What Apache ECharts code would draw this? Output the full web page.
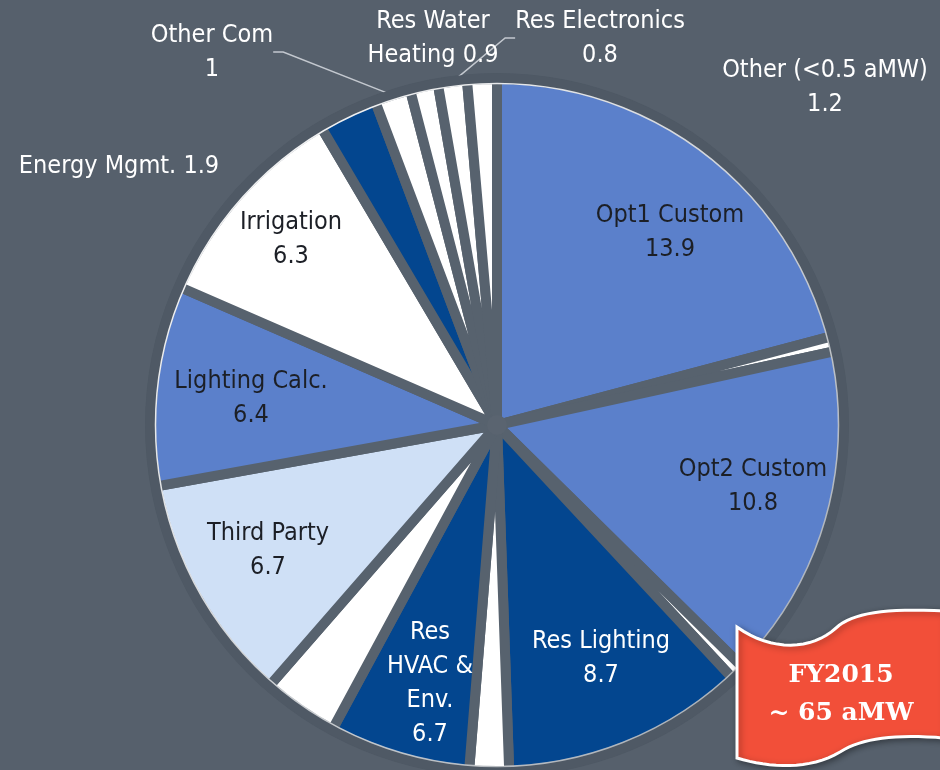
<!DOCTYPE html>
<html>
<head>
<meta charset="utf-8">
<script src="https://cdn.jsdelivr.net/npm/echarts@6/dist/echarts.min.js"></script>
<style>
  html, body { margin: 0; background: #56606c; }
  #main { width: 940px; height: 770px; }
</style>
</head>
<body>
<div id="main"></div>
<script>
// slices clockwise from 12 o'clock; unnamed ones are the unlabeled white slivers
const categories = ['Opt1 Custom', '', 'Opt2 Custom', '', 'Res Lighting', '', 'Res\nHVAC &\nEnv.', '',
  'Third Party', 'Lighting Calc.', 'Irrigation', 'Energy Mgmt.', 'Other Com', 'Res Water\nHeating',
  'Res Electronics', 'Other (<0.5 aMW)']
// slice sizes as drawn in the picture (aMW)
const sizes = [13.6, 0.45, 10.3, 0.45, 7.4, 1.2, 4.3, 2.3, 7.0, 6.1, 6.5, 1.8, 1.1, 0.85, 0.88, 0.9]
// numbers as printed on the labels
const printed = ['13.9', '', '10.8', '', '8.7', '', '6.7', '', '6.7', '6.4', '6.3', '1.9', '1', '0.9', '0.8', '1.2']

const MID = '#5b80cb'
const DARK = '#03468f'
const LIGHT = '#cfe0f6'
const WHITE = '#ffffff'
const sliceColors = [MID, WHITE, MID, WHITE, DARK, WHITE, DARK, WHITE, LIGHT, MID, WHITE, DARK, WHITE, WHITE, WHITE, WHITE]
const whiteText = [4, 6, 11, 12, 13, 14, 15]
const outside = [11, 12, 13, 14, 15]
const withLine = [12, 14]
const inlineValue = [11, 13] // value on the same line as the name

// where each label sits (text centre)
const labelSpots = {
  0: [670, 232], 2: [753, 486], 4: [601, 658], 6: [430, 683], 8: [268, 550], 9: [251, 398],
  10: [291, 239], 11: [119, 166], 12: [212, 52], 13: [433, 38], 14: [600, 38], 15: [825, 87]
}

const FONT = "'Liberation Sans Narrow', 'DejaVu Sans Condensed', sans-serif"
const CX = 497
const CY = 425

// sample a chain of cubic curves into polygon points
function bez(start, curves) {
  const pts = [start]
  let p0 = start
  curves.forEach(c => {
    if (c.length === 1) { pts.push(c[0]); p0 = c[0]; return }
    for (let k = 1; k <= 16; k++) {
      const t = k / 16, u = 1 - t
      pts.push([
        u * u * u * p0[0] + 3 * u * u * t * c[0][0] + 3 * u * t * t * c[1][0] + t * t * t * c[2][0],
        u * u * u * p0[1] + 3 * u * u * t * c[0][1] + 3 * u * t * t * c[1][1] + t * t * t * c[2][1]
      ])
    }
    p0 = c[2]
  })
  return pts
}

const flagPoints = bez([737, 627], [
  [[772, 652], [812, 650], [836, 628]],
  [[852, 613], [885, 608], [945, 611]],
  [[945, 738]],
  [[895, 734], [862, 738], [840, 752]],
  [[810, 770], [770, 768], [737, 758]]
])

const chart = echarts.init(document.getElementById('main'))

chart.setOption({
  backgroundColor: '#56606c',
  animation: false,
  graphic: [
    { type: 'circle', z: 0, silent: true, shape: { cx: CX, cy: CY, r: 352 }, style: { fill: '#4f5965' } },
    { type: 'circle', z: 5, silent: true, shape: { cx: CX, cy: CY, r: 346.5 },
      style: { fill: 'none', stroke: '#4f5965', lineWidth: 10 } },
    { type: 'circle', z: 6, silent: true, shape: { cx: CX, cy: CY, r: 341.5 },
      style: {
        fill: 'none', lineWidth: 1.5,
        stroke: new echarts.graphic.LinearGradient(0, 0, 1, 1, [
          { offset: 0, color: 'rgba(255,255,255,1)' },
          { offset: 1, color: 'rgba(255,255,255,0.45)' }
        ])
      } },
    { type: 'circle', z: 6, silent: true, shape: { cx: CX, cy: CY, r: 10 }, style: { fill: '#5a6470' } },
    {
      type: 'polygon', z: 10, silent: true,
      shape: { points: flagPoints },
      style: { fill: '#f24f39', stroke: '#ffffff', lineWidth: 3,
        shadowBlur: 6, shadowColor: 'rgba(0,0,0,0.35)', shadowOffsetX: 2, shadowOffsetY: 2 }
    },
    {
      type: 'text', z: 11, silent: true, x: 841, y: 694,
      style: {
        text: 'FY2015\n~ 65 aMW', fill: '#ffffff', font: "bold 25px 'DejaVu Serif', serif",
        lineHeight: 38, align: 'center', verticalAlign: 'middle'
      }
    }
  ],
  series: [{
    type: 'pie',
    z: 2,
    center: [CX, CY],
    radius: 346,
    startAngle: 90,
    clockwise: true,
    avoidLabelOverlap: false,
    silent: true,
    itemStyle: { borderColor: '#57626e', borderWidth: 10 },
    label: {
      show: true,
      position: 'inside',
      fontFamily: FONT,
      fontSize: 25,
      lineHeight: 34,
      color: '#1c1f26',
      formatter: p => {
        const i = p.dataIndex
        if (!categories[i]) return ''
        return categories[i] + (inlineValue.includes(i) ? ' ' : '\n') + printed[i]
      }
    },
    labelLine: { show: false },
    labelLayout: p => {
      const s = labelSpots[p.dataIndex]
      if (!s) return {}
      return { x: s[0], y: s[1], align: 'center', verticalAlign: 'middle' }
    },
    data: sizes.map((v, i) => ({
      name: categories[i],
      value: v,
      itemStyle: { color: sliceColors[i] },
      label: {
        position: outside.includes(i) ? 'outside' : 'inside',
        color: whiteText.includes(i) ? '#ffffff' : '#1c1f26'
      },
      labelLine: {
        show: withLine.includes(i),
        length: 10, length2: 10,
        lineStyle: { color: '#c3c8cf', width: 1.5 }
      }
    }))
  }]
})
</script>
</body>
</html>
